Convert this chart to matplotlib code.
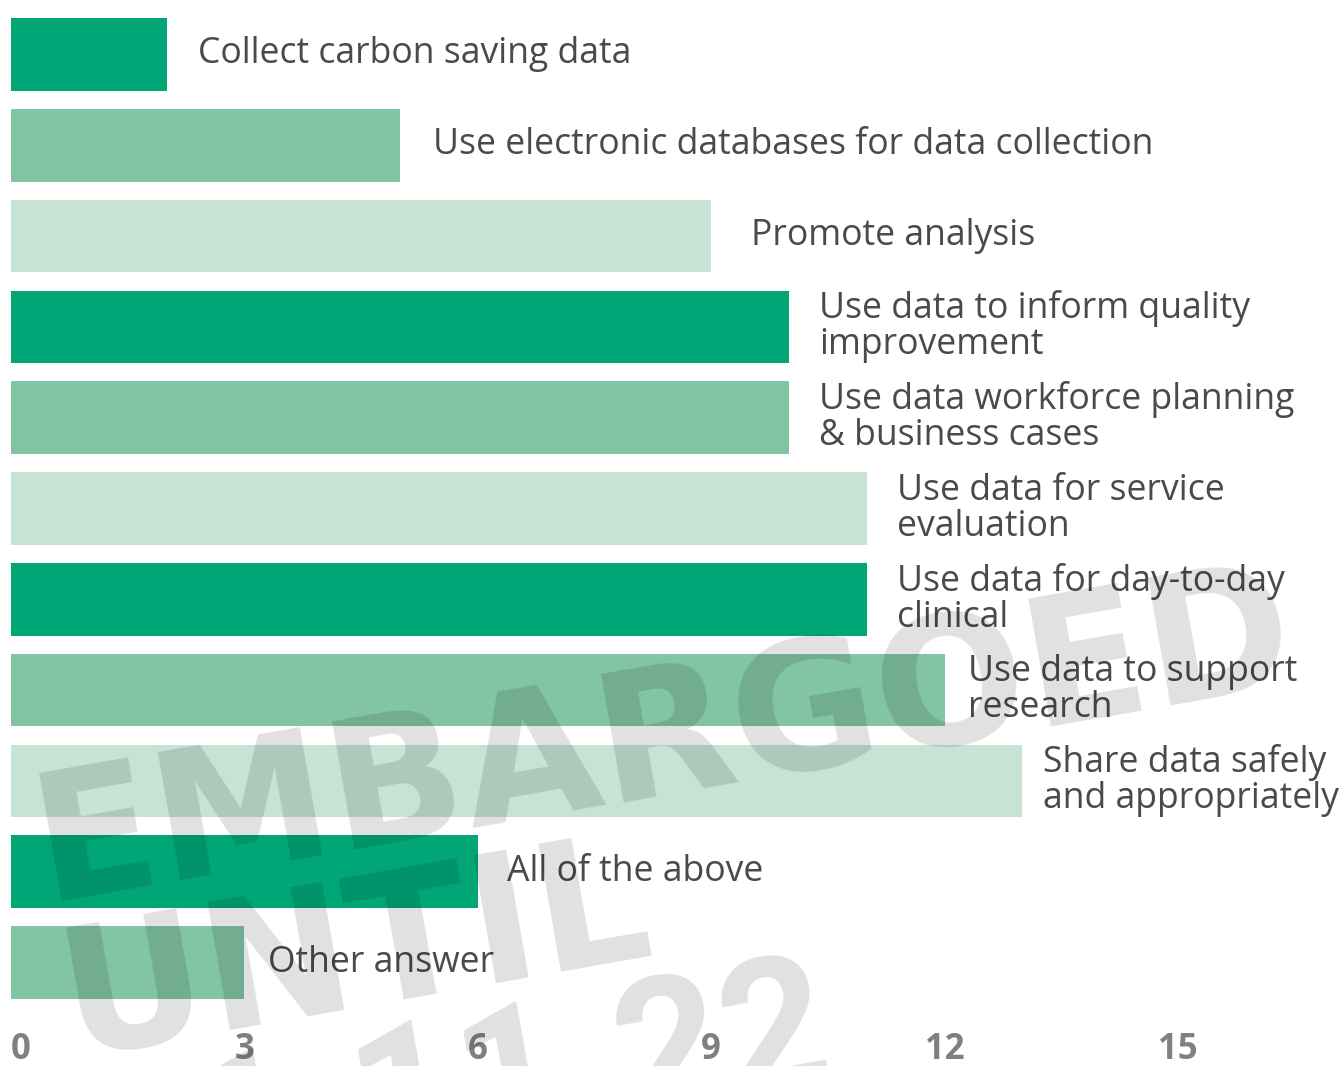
"""
Horizontal bar chart: how services use their data
"""
import numpy as np
import matplotlib
matplotlib.use("Agg")
import matplotlib.pyplot as plt

# Data
labels = [
    "Collect carbon saving data",
    "Use electronic databases for data collection",
    "Promote analysis",
    "Use data to inform quality\nimprovement",
    "Use data workforce planning\n& business cases",
    "Use data for service\nevaluation",
    "Use data for day-to-day\nclinical",
    "Use data to support\nresearch",
    "Share data safely\nand appropriately",
    "All of the above",
    "Other answer",
]
values = [2, 5, 9, 10, 10, 11, 11, 12, 13, 6, 3]
ticks = [0, 3, 6, 9, 12, 15]
watermark = ["EMBARGOED", "UNTIL", "21.11.22"]

# Style
W, H = 1343, 1066
DPI = 100
PALETTE = ["#00A676", "#82C5A5", "#C6E3D4"]
TEXT_COLOR = "#4A4A4A"
TICK_COLOR = "#808080"
LABEL_FONT = "Open Sans"
PX_PER_UNIT = 77.8
# gap (px) between bar end and its label
LABEL_PAD = [31, 33, 40, 30, 30, 30, 30, 23, 21, 29, 24]


def main():
    fig = plt.figure(figsize=(W / DPI, H / DPI), dpi=DPI)

    left_px, bottom_px = 11, 38
    ax = fig.add_axes([left_px / W, bottom_px / H, 1 - left_px / W, 1 - bottom_px / H])

    n = len(values)
    y = np.arange(n)
    colors = [PALETTE[i % 3] for i in range(n)]
    ax.barh(y, values, height=0.80, color=colors, zorder=2)

    # axis scaling so one unit is ~78 px and bars sit ~91 px apart
    row_px = 90.8
    first_center = 54.5
    axes_h = H - bottom_px
    ax.set_ylim((axes_h - first_center) / row_px, -first_center / row_px)
    ax.set_xlim(0, (W - left_px) / PX_PER_UNIT)

    for yi, v, lab, pad in zip(y, values, labels, LABEL_PAD):
        ax.annotate(lab, xy=(v, yi), xytext=(pad, 0), textcoords="offset pixels",
                    ha="left", va="center", fontsize=25.6, color=TEXT_COLOR,
                    family=LABEL_FONT, linespacing=1.0, zorder=3)

    ax.set_xticks(ticks)
    ax.set_xticklabels([str(t) for t in ticks])
    ax.tick_params(axis="x", length=0, pad=3, labelsize=25, labelcolor=TICK_COLOR)
    for t in ax.get_xticklabels():
        t.set_fontweight("bold")
        t.set_family(LABEL_FONT)
    ax.get_xticklabels()[0].set_ha("left")
    ax.set_yticks([])
    for s in ax.spines.values():
        s.set_visible(False)

    # watermark: words in a wide heavy face, date in narrower digits
    ang = 10.0
    rad = np.deg2rad(ang)
    x0, y0 = 45, 901
    step = 156
    fonts = [("DejaVu Sans", 128), ("DejaVu Sans", 128), ("Roboto", 134)]
    for k, word in enumerate(watermark):
        px = x0 + k * step * np.sin(rad)
        py = y0 + k * step * np.cos(rad)
        fam, size = fonts[k]
        fig.text(px / W, 1 - py / H, word, rotation=ang, rotation_mode="anchor",
                 ha="left", va="baseline", fontsize=size, fontweight="bold",
                 family=fam, color="black", alpha=0.12, zorder=10)

    fig.savefig("out.png", dpi=DPI)


if __name__ == "__main__":
    main()
